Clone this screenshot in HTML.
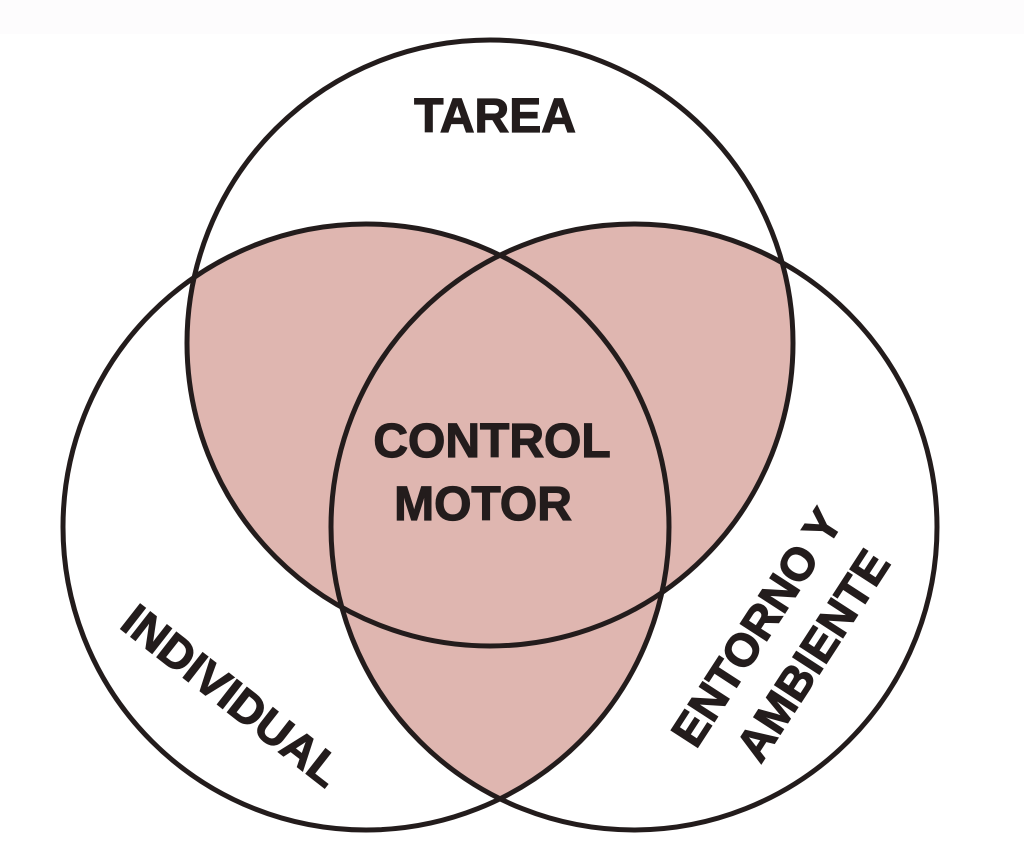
<!DOCTYPE html>
<html><head><meta charset="utf-8"><style>
html,body{margin:0;padding:0;background:#fff;}
svg{display:block;}
text{font-family:"Liberation Sans",Arial,sans-serif;font-weight:bold;fill:#231c1c;stroke:#231c1c;stroke-width:1.2;}
</style></head><body>
<svg width="1024" height="856" viewBox="0 0 1024 856" xmlns="http://www.w3.org/2000/svg">
<rect x="0" y="0" width="1024" height="34" fill="#fdfcfd"/>
<defs>
<clipPath id="cT"><circle cx="490" cy="343" r="303"/></clipPath>
<clipPath id="cL"><circle cx="366" cy="527" r="303"/></clipPath>
<clipPath id="cR"><circle cx="634" cy="527" r="303"/></clipPath>
</defs>
<g fill="#dfb6b0">
<circle cx="490" cy="343" r="303" clip-path="url(#cL)"/>
<circle cx="490" cy="343" r="303" clip-path="url(#cR)"/>
<circle cx="366" cy="527" r="303" clip-path="url(#cR)"/>
</g>
<g fill="none" stroke="#231c1c" stroke-width="5">
<circle cx="490" cy="343" r="303"/>
<circle cx="366" cy="527" r="303"/>
<circle cx="634" cy="527" r="303"/>
</g>
<text x="495" y="132" font-size="48" text-anchor="middle">TAREA</text>
<text x="492" y="457" font-size="48" text-anchor="middle">CONTROL</text>
<text x="483" y="520" font-size="48" text-anchor="middle">MOTOR</text>
<text transform="translate(222,708) rotate(38)" font-size="46" text-anchor="middle">INDIVIDUAL</text>
<text transform="translate(770,636) rotate(-57)" font-size="46" text-anchor="middle">ENTORNO Y</text>
<text transform="translate(826,664) rotate(-57)" font-size="46" text-anchor="middle">AMBIENTE</text>
</svg>
</body></html>
